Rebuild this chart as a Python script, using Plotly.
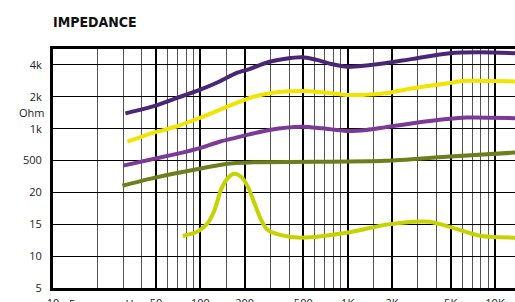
import plotly.graph_objects as go

# Y axis is an ordinal impedance scale: one gridline per label
y_levels = [0, 1, 2, 3, 4, 5, 6, 7]
y_labels = ["5", "10", "15", "20", "500", "1k", "2k", "4k"]

# X axis gridlines / labels (Hz)
x_major = [10, 50, 100, 200, 500, 1000, 2000, 5000, 10000]
x_major_labels = ["10", "50", "100", "200", "500", "1K", "2K", "5K", "10K"]
x_minor = [20, 30, 40, 60, 70, 80, 90, 150, 300, 400, 600, 700, 800, 900,
           1500, 3000, 4000, 6000, 7000, 8000, 9000]

# Series (frequency in Hz, value as level on the impedance scale)
s1_f = [31, 47, 68, 98, 135, 175, 215, 295, 485, 615, 790, 1000, 1340, 1790, 2770, 4940, 7900, 13700]
s1_v = [5.48, 5.69, 5.95, 6.21, 6.48, 6.74, 6.87, 7.10, 7.24, 7.16, 7.02, 6.94, 6.98, 7.05, 7.19, 7.37, 7.40, 7.37]

s2_f = [32, 47, 68, 98, 135, 175, 215, 295, 485, 676, 980, 1265, 1790, 2770, 4690, 6420, 13700]
s2_v = [4.59, 4.86, 5.06, 5.33, 5.59, 5.80, 5.96, 6.11, 6.18, 6.14, 6.06, 6.06, 6.11, 6.27, 6.42, 6.50, 6.48]

s3_f = [30, 47, 68, 98, 135, 175, 215, 295, 485, 676, 980, 1340, 1790, 2770, 4690, 6420, 13700]
s3_v = [3.84, 4.04, 4.20, 4.38, 4.59, 4.72, 4.82, 4.96, 5.06, 5.01, 4.93, 4.96, 5.04, 5.17, 5.30, 5.35, 5.33]

s4_f = [29.6, 47, 68, 98, 135, 175, 233, 612, 1790, 4690, 13700]
s4_v = [3.21, 3.44, 3.60, 3.74, 3.86, 3.92, 3.95, 3.96, 3.99, 4.12, 4.25]

s5_f = [76, 96, 112, 125, 138, 153, 168, 189, 210, 233, 259, 287, 354, 484, 1032, 1786, 2768, 3613, 4941, 7910, 13700]
s5_v = [1.63, 1.77, 2.03, 2.45, 3.08, 3.44, 3.58, 3.49, 3.18, 2.66, 2.13, 1.82, 1.66, 1.58, 1.75, 1.98, 2.08, 2.08, 1.92, 1.64, 1.58]

series = [
    (s1_f, s1_v, "#4a2776"),
    (s2_f, s2_v, "#f0e400"),
    (s3_f, s3_v, "#7b3a96"),
    (s4_f, s4_v, "#6e7e1c"),
    (s5_f, s5_v, "#c6d300"),
]

fig = go.Figure()
for f, v, c in series:
    fig.add_trace(go.Scatter(x=f, y=v, mode="lines",
                             line=dict(color=c, width=4, shape="spline", smoothing=0.8),
                             showlegend=False, hoverinfo="skip"))

tick_font = dict(family="Open Sans, Noto Sans, sans-serif", size=11, color="#222222")

fig.update_layout(
    width=515, height=302,
    margin=dict(l=53, r=0, t=49, b=14),
    paper_bgcolor="white", plot_bgcolor="white",
    template="none",
    xaxis=dict(type="log", range=[1, 4.136], automargin=False,
               tickvals=x_major, ticktext=x_major_labels, tickfont=tick_font,
               showgrid=True, gridcolor="#000000", gridwidth=2,
               showline=True, linecolor="#000000", linewidth=3, mirror=True,
               ticks="", zeroline=False, ticklabelstandoff=3,
               minor=dict(tickvals=x_minor, showgrid=True, gridcolor="#555555", gridwidth=1.2, ticks="")),
    yaxis=dict(range=[0, 7.5], automargin=False,
               tickvals=y_levels, ticktext=y_labels, tickfont=tick_font,
               showgrid=True, gridcolor="#000000", gridwidth=1,
               showline=True, linecolor="#000000", linewidth=3,
               ticks="", zeroline=False, ticklabelstandoff=6),
    annotations=[
        dict(text="<b>IMPEDANCE</b>", x=-0.004, xref="paper", xanchor="left",
             y=1 + 27/239, yref="paper", yanchor="middle", showarrow=False,
             font=dict(family="DejaVu Sans Condensed, Liberation Sans Narrow, sans-serif",
                       size=14, color="#111111")),
        dict(text="Ohm", x=-0.014, xref="paper", xanchor="right",
             y=5.52, yref="y", yanchor="middle", showarrow=False, font=tick_font),
        # annotation x on a log axis is given in log10 units
        dict(text="Frequency Hz", x=1.347, xref="x", xanchor="center",
             y=-0.025, yref="paper", yanchor="top", showarrow=False, font=tick_font),
    ],
)

fig.write_html("out.html", config={"displayModeBar": False},
               post_script="document.body.style.margin='0';")
